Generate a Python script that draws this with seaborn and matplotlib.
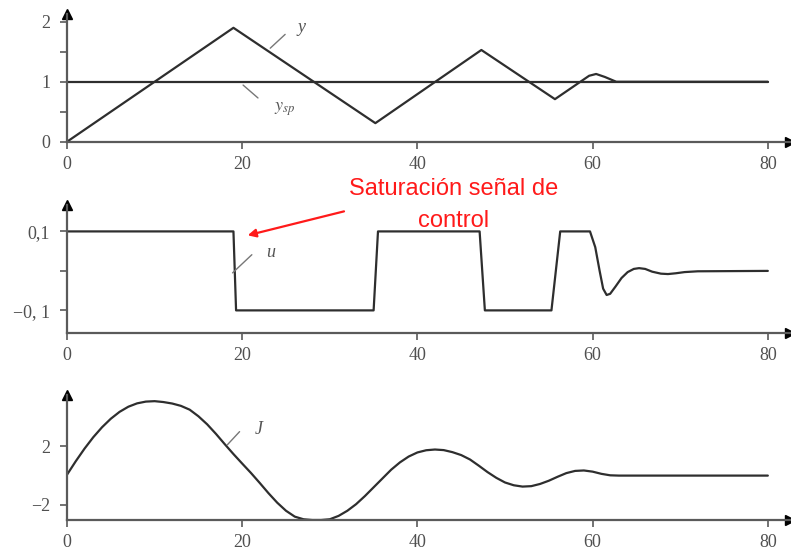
import matplotlib
matplotlib.use("Agg")
import matplotlib.pyplot as plt
import pandas as pd
import seaborn as sns

# Process output y and setpoint y_sp
t_y = [0, 19.0, 35.2, 47.3, 55.7, 59.6, 60.4, 61.4, 62.7, 80]
y_vals = [0, 1.9, 0.31, 1.53, 0.71, 1.10, 1.13, 1.08, 1.0, 1.0]
t_ysp = [0, 80]
ysp_vals = [1, 1]

# Control signal u (saturated at +/-0.1)
t_u = [0, 19.0, 19.3, 35.0, 35.5, 47.1, 47.7, 55.3, 56.3, 59.7, 60.3, 60.8,
       61.2, 61.6, 62.0, 62.6, 63.3, 64.0, 64.7, 65.3, 66.0, 66.8, 67.8,
       68.6, 69.5, 70.5, 72.0, 80]
u_vals = [0.1, 0.1, -0.1, -0.1, 0.1, 0.1, -0.1, -0.1, 0.1, 0.1, 0.06, 0.0,
          -0.045, -0.061, -0.058, -0.04, -0.018, -0.003, 0.005, 0.007, 0.005,
          -0.002, -0.007, -0.008, -0.006, -0.003, -0.001, 0.0]

# Cost J
t_J = list(range(0, 64)) + [80]
J_vals = [0.06, 0.98, 1.84, 2.62, 3.3, 3.88, 4.35, 4.7, 4.93, 5.05,
          5.08, 5.02, 4.92, 4.76, 4.5, 4.05, 3.5, 2.85, 2.15, 1.47,
          0.82, 0.18, -0.5, -1.2, -1.85, -2.4, -2.8, -2.98, -3.03, -3.03,
          -2.98, -2.75, -2.4, -1.95, -1.4, -0.8, -0.2, 0.4, 0.9, 1.3,
          1.58, 1.73, 1.78, 1.74, 1.6, 1.4, 1.1, 0.68, 0.24, -0.15,
          -0.47, -0.66, -0.75, -0.72, -0.57, -0.35, -0.08, 0.17, 0.32, 0.35,
          0.27, 0.12, 0.02, 0.0, 0.0]

x_ticks = [0, 20, 40, 60, 80]

sns.set_theme(style="ticks")
plt.rcParams["font.family"] = ["Liberation Serif", "DejaVu Serif"]
plt.rcParams["mathtext.fontset"] = "stix"

line_col = "#2e2e2e"
axis_col = "#5a5a5a"
lbl_col = "#505050"

fig = plt.figure(figsize=(7.91, 5.58), dpi=100)
ax1 = fig.add_axes([0.0847, 0.746, 0.9137, 0.2289])
ax2 = fig.add_axes([0.0847, 0.4027, 0.9137, 0.2300])
ax3 = fig.add_axes([0.0847, 0.0681, 0.9137, 0.2240])


def style_axis(ax, ylim):
    ax.set_xlim(0, 82.5)
    ax.set_ylim(*ylim)
    for side in ("top", "right"):
        ax.spines[side].set_visible(False)
    for side in ("left", "bottom"):
        ax.spines[side].set_linewidth(1.6)
        ax.spines[side].set_color(axis_col)
    ax.set_xticks(x_ticks)
    ax.set_xticklabels([str(v) for v in x_ticks])
    ax.tick_params(axis="both", which="both", direction="out", length=5,
                   width=1.2, color=axis_col, labelsize=13, labelcolor=lbl_col)
    ax.tick_params(axis="x", pad=5)
    ax.tick_params(axis="y", pad=7)
    ax.set_xlabel("")
    ax.set_ylabel("")
    # arrowheads at the ends of both axes
    ax.plot(0, 1, marker="^", color="black", ms=7, transform=ax.transAxes,
            clip_on=False)
    ax.plot(1, 0, marker=">", color="black", ms=7, transform=ax.transAxes,
            clip_on=False)


def leader(ax, p0, p1, text, tpos, size=13):
    ax.plot([p0[0], p1[0]], [p0[1], p1[1]], color="#777777", lw=1.0)
    ax.text(tpos[0], tpos[1], text, fontsize=size, style="italic",
            color="#555555", ha="center", va="center")


# --- panel 1: y and y_sp
sns.lineplot(x=t_ysp, y=ysp_vals, ax=ax1, color=line_col, lw=1.6,
             estimator=None)
sns.lineplot(x=t_y, y=y_vals, ax=ax1, color=line_col, lw=1.6,
             estimator=None, sort=False)
style_axis(ax1, (0, 2.13))
ax1.set_yticks([0, 1, 2])
ax1.set_yticklabels(["0", "1", "2"])
ax1.set_yticks([0.5, 1.5], minor=True)
leader(ax1, (23.2, 1.56), (24.9, 1.79), "y", (26.8, 1.9))
leader(ax1, (20.1, 0.945), (21.8, 0.73), r"$y_{sp}$", (24.8, 0.55))

# --- panel 2: u
sns.lineplot(x=t_u, y=u_vals, ax=ax2, color=line_col, lw=1.6,
             estimator=None, sort=False)
style_axis(ax2, (-0.158, 0.167))
ax2.set_yticks([-0.1, 0.1])
ax2.set_yticklabels(["\u22120, 1", "0,1"])
ax2.set_yticks([0.0], minor=True)
leader(ax2, (18.9, -0.005), (21.1, 0.041), "u", (23.2, 0.047))

# --- panel 3: J
sns.lineplot(x=t_J, y=J_vals, ax=ax3, color=line_col, lw=1.6,
             estimator=None, sort=False)
style_axis(ax3, (-3.03, 5.5))
ax3.set_yticks([-2, 2])
ax3.set_yticklabels(["\u22122", "2"])
leader(ax3, (18.3, 2.1), (19.7, 3.0), "J", (21.9, 3.15))

# --- red note pointing at the saturation of u
W, H = 791, 558
fig.text(454 / W, 1 - 195 / H, "Saturación señal de", color="#ff1a1a",
         fontsize=17, ha="center", va="baseline", family="Liberation Sans")
fig.text(454 / W, 1 - 227 / H, "control", color="#ff1a1a",
         fontsize=17, ha="center", va="baseline", family="Liberation Sans")
fig.add_artist(matplotlib.patches.FancyArrowPatch(
    posA=(346.7 / W, 1 - 210.7 / H), posB=(245 / W, 1 - 236 / H),
    transform=fig.transFigure, arrowstyle="-|>", mutation_scale=12,
    color="#ff1a1a", lw=1.6))

fig.savefig("out.png", dpi=100)
